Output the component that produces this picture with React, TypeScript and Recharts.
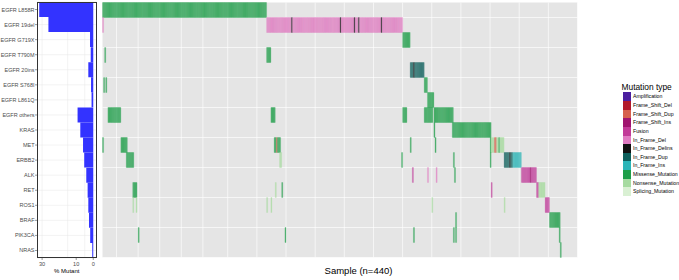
import React from 'react';
import { BarChart, Bar, XAxis, YAxis, CartesianGrid, ComposedChart, ReferenceArea } from 'recharts';

const GENES = ['EGFR L858R', 'EGFR 19del', 'EGFR G719X', 'EGFR T790M', 'EGFR 20ins', 'EGFR S768I', 'EGFR L861Q', 'EGFR others', 'KRAS', 'MET', 'ERBB2', 'ALK', 'RET', 'ROS1', 'BRAF', 'PIK3CA', 'NRAS'];
const PCT_MUTANT = [31.7, 26.3, 1.9, 1.5, 2.9, 1.3, 1.0, 9.2, 7.6, 6.0, 5.3, 4.1, 3.3, 2.9, 2.5, 1.8, 0.6];
const PCT_TICKS = [0, 10, 20, 30];
const PCT_GRID = [0, 5, 10, 15, 20, 25, 30];
const N_SAMPLES = 440;

const TYPES = ['Amplification', 'Frame_Shift_Del', 'Frame_Shift_Dup', 'Frame_Shift_Ins', 'Fusion', 'In_Frame_Del', 'In_Frame_Delins', 'In_Frame_Dup', 'In_Frame_Ins', 'Missense_Mutation', 'Nonsense_Mutation', 'Splicing_Mutation'];
const TYPE_COLORS = ['#4B1FA0', '#B2182B', '#D6604D', '#A0146F', '#C23A98', '#E07BC2', '#111111', '#0E5F5C', '#2BB5B8', '#1E9E48', '#A6DBA0', '#D9F0D3'];

// segments: [first sample, last sample, mutation type]
const SEG_L858R = [[0, 151, 'Missense_Mutation']];
const SEG_19DEL = [[0, 0, 'In_Frame_Del'], [152, 174, 'In_Frame_Del'], [175, 175, 'In_Frame_Delins'], [176, 219, 'In_Frame_Del'], [220, 220, 'In_Frame_Delins'], [221, 232, 'In_Frame_Del'], [233, 233, 'In_Frame_Delins'], [234, 236, 'In_Frame_Del'], [237, 237, 'In_Frame_Delins'], [238, 257, 'In_Frame_Del'], [258, 258, 'In_Frame_Delins'], [259, 277, 'In_Frame_Del']];
const SEG_G719X = [[278, 284, 'Missense_Mutation']];
const SEG_T790M = [[2, 2, 'Missense_Mutation'], [152, 155, 'Missense_Mutation']];
const SEG_20INS = [[285, 287, 'In_Frame_Dup'], [288, 288, 'In_Frame_Delins'], [289, 297, 'In_Frame_Dup']];
const SEG_S768I = [[1, 1, 'Missense_Mutation'], [3, 3, 'Missense_Mutation'], [298, 300, 'Missense_Mutation']];
const SEG_L861Q = [[301, 306, 'Missense_Mutation']];
const SEG_OTHERS = [[5, 16, 'Missense_Mutation'], [156, 159, 'Missense_Mutation'], [278, 281, 'Missense_Mutation'], [298, 305, 'Missense_Mutation'], [307, 324, 'Missense_Mutation']];
const SEG_KRAS = [[307, 307, 'Missense_Mutation'], [324, 359, 'Missense_Mutation']];
const SEG_MET = [[0, 0, 'Missense_Mutation'], [17, 22, 'Missense_Mutation'], [159, 160, 'Missense_Mutation'], [161, 161, 'Frame_Shift_Dup'], [162, 164, 'Missense_Mutation'], [285, 285, 'Missense_Mutation'], [308, 308, 'Missense_Mutation'], [359, 359, 'Missense_Mutation'], [360, 362, 'Nonsense_Mutation'], [363, 364, 'Frame_Shift_Dup'], [365, 366, 'Nonsense_Mutation'], [367, 367, 'Missense_Mutation'], [368, 371, 'Nonsense_Mutation']];
const SEG_ERBB2 = [[22, 28, 'Missense_Mutation'], [164, 165, 'Nonsense_Mutation'], [277, 277, 'Missense_Mutation'], [325, 325, 'Missense_Mutation'], [359, 359, 'Missense_Mutation'], [372, 376, 'In_Frame_Dup'], [377, 377, 'In_Frame_Delins'], [378, 379, 'In_Frame_Dup'], [380, 387, 'In_Frame_Ins']];
const SEG_ALK = [[287, 287, 'Fusion'], [301, 301, 'In_Frame_Del'], [309, 309, 'In_Frame_Del'], [326, 326, 'Missense_Mutation'], [388, 395, 'Fusion'], [396, 396, 'Frame_Shift_Ins'], [397, 401, 'Fusion']];
const SEG_RET = [[28, 31, 'Missense_Mutation'], [160, 160, 'Nonsense_Mutation'], [166, 166, 'Missense_Mutation'], [360, 360, 'Fusion'], [402, 403, 'Fusion'], [404, 409, 'Nonsense_Mutation']];
const SEG_ROS1 = [[28, 28, 'Nonsense_Mutation'], [31, 31, 'Nonsense_Mutation'], [152, 152, 'Nonsense_Mutation'], [156, 156, 'Nonsense_Mutation'], [305, 305, 'Nonsense_Mutation'], [372, 372, 'Nonsense_Mutation'], [410, 413, 'Fusion']];
const SEG_BRAF = [[327, 327, 'Missense_Mutation'], [414, 423, 'Missense_Mutation']];
const SEG_PIK3CA = [[33, 33, 'Missense_Mutation'], [169, 169, 'Missense_Mutation'], [288, 288, 'Missense_Mutation'], [325, 325, 'Missense_Mutation'], [327, 327, 'Missense_Mutation'], [423, 423, 'Missense_Mutation']];
const SEG_NRAS = [[424, 424, 'Missense_Mutation']];

const ROW_SEGMENTS = [SEG_L858R, SEG_19DEL, SEG_G719X, SEG_T790M, SEG_20INS, SEG_S768I, SEG_L861Q, SEG_OTHERS, SEG_KRAS, SEG_MET, SEG_ERBB2, SEG_ALK, SEG_RET, SEG_ROS1, SEG_BRAF, SEG_PIK3CA, SEG_NRAS];

const FONT = '"Liberation Sans", Arial, Helvetica, sans-serif';

const barData = GENES.map((g, i) => ({ gene: g, pct: PCT_MUTANT[i] }));

const cells: { row: number; s: number; type: string }[] = [];
ROW_SEGMENTS.forEach((segs, row) => {
  (segs as any[]).forEach(([a, b, t]) => {
    for (let s = a; s <= b; s++) cells.push({ row, s, type: t });
  });
});

const colorOf = (t: string) => TYPE_COLORS[TYPES.indexOf(t)];

const sampleLines = Array.from({ length: N_SAMPLES + 1 }, (_, i) => i);
const rowLines = Array.from({ length: GENES.length + 1 }, (_, i) => i);

const PctTick = (props: any) => {
  const { x, y, payload } = props;
  return (
    <text x={x} y={y + 4} textAnchor="middle" fontSize={5.6} fill="#4d4d4d" fontFamily={FONT}>
      {payload.value}
    </text>
  );
};

const GeneTick = (props: any) => {
  const { x, y, payload } = props;
  return (
    <text x={x} y={y + 2} textAnchor="end" fontSize={5.5} fill="#4d4d4d" fontFamily={FONT}>
      {payload.value}
    </text>
  );
};

export default function App() {
  return (
    <div style={{ position: 'absolute', left: 0, top: 0, width: 679, height: 280, background: '#fff', fontFamily: FONT }}>
      <div style={{ position: 'absolute', left: 0, top: 0 }}>
        <BarChart
          width={100}
          height={280}
          data={barData}
          layout="vertical"
          margin={{ top: 2, right: 3.5, bottom: 10, left: 0 }}
          barCategoryGap={0}
        >
          <CartesianGrid stroke="#e6e6e6" strokeWidth={0.5} verticalValues={PCT_GRID} />
          <XAxis
            type="number"
            dataKey="pct"
            domain={[-1.9, 33]}
            reversed
            ticks={PCT_TICKS}
            height={12}
            tick={<PctTick />}
            tickSize={2}
            tickLine={{ stroke: '#333', strokeWidth: 0.5 }}
            axisLine={false}
            allowDataOverflow
            label={{ value: '% Mutant', position: 'bottom', offset: -1, fontSize: 6, fill: '#000', fontFamily: FONT }}
          />
          <YAxis
            type="category"
            dataKey="gene"
            width={37}
            tick={<GeneTick />}
            tickSize={2}
            tickMargin={0.5}
            tickLine={{ stroke: '#333', strokeWidth: 0.5 }}
            axisLine={false}
            interval={0}
          />
          <Bar dataKey="pct" fill="#3333FF" isAnimationActive={false} />
        </BarChart>
      </div>
      <div style={{ position: 'absolute', left: 37, top: 2, width: 59.5, height: 256, border: '0.6px solid #333', boxSizing: 'border-box', pointerEvents: 'none' }} />

      <div style={{ position: 'absolute', left: 0, top: 0 }}>
        <ComposedChart
          width={679}
          height={280}
          data={barData}
          margin={{ top: 2.5, right: 101.5, bottom: 22.5, left: 102.5 }}
        >
          <CartesianGrid
            fill="#E5E5E5"
            stroke="#ffffff"
            strokeWidth={0.75}
            strokeOpacity={0.85}
            verticalValues={sampleLines}
            horizontalValues={rowLines}
          />
          <XAxis type="number" dataKey="x" domain={[0, N_SAMPLES]} hide allowDataOverflow />
          <YAxis type="number" domain={[0, GENES.length]} reversed hide allowDataOverflow />
          {cells.map((c, i) => (
            <ReferenceArea
              key={i}
              x1={c.s}
              x2={c.s + 1}
              y1={c.row}
              y2={c.row + 1}
              fill={colorOf(c.type)}
              fillOpacity={0.7}
              stroke={colorOf(c.type)}
              strokeOpacity={0.6}
              strokeWidth={0.35}
              ifOverflow="visible"
            />
          ))}
        </ComposedChart>
      </div>

      <div style={{ position: 'absolute', left: 290, top: 265, width: 137, textAlign: 'center', fontSize: 9.5, color: '#000', lineHeight: '11px' }}>
        Sample (n=440)
      </div>

      <div style={{ position: 'absolute', left: 621.5, top: 82, fontSize: 8.4, color: '#000', lineHeight: '10px', whiteSpace: 'nowrap' }}>
        Mutation type
      </div>
      <div style={{ position: 'absolute', left: 622.7, top: 92.3 }}>
        {TYPES.map((t, i) => (
          <div key={t} style={{ display: 'flex', alignItems: 'center', height: 8.65 }}>
            <div style={{ width: 8, height: 8.65, background: TYPE_COLORS[i] }} />
            <span style={{ marginLeft: 2.3, fontSize: 5.2, color: '#000', lineHeight: '8.65px', whiteSpace: 'nowrap' }}>{t}</span>
          </div>
        ))}
      </div>
    </div>
  );
}
